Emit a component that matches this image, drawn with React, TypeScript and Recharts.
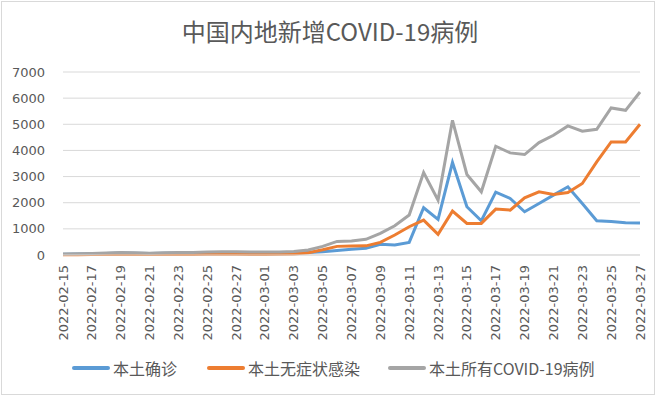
import React from "react";
import { LineChart, Line, XAxis, YAxis, CartesianGrid, Legend } from "recharts";

const dates = [
    "2022-02-15", "2022-02-16", "2022-02-17", "2022-02-18", "2022-02-19", "2022-02-20", "2022-02-21",
    "2022-02-22", "2022-02-23", "2022-02-24", "2022-02-25", "2022-02-26", "2022-02-27", "2022-02-28",
    "2022-03-01", "2022-03-02", "2022-03-03", "2022-03-04", "2022-03-05", "2022-03-06", "2022-03-07",
    "2022-03-08", "2022-03-09", "2022-03-10", "2022-03-11", "2022-03-12", "2022-03-13", "2022-03-14",
    "2022-03-15", "2022-03-16", "2022-03-17", "2022-03-18", "2022-03-19", "2022-03-20", "2022-03-21",
    "2022-03-22", "2022-03-23", "2022-03-24", "2022-03-25", "2022-03-26", "2022-03-27",
];

// 本土确诊
const confirmed = [
    30, 35, 45, 60, 75, 70, 55, 70, 75, 80, 85, 95, 100, 95, 90, 85, 90, 100, 120, 175,
    216, 254, 407, 382, 483, 1807, 1361, 3538, 1845, 1310, 2404, 2163, 1654, 1972, 2290, 2608,
    1972, 1310, 1285, 1234, 1221,
];

// 本土无症状感染
const asymptomatic = [
    10, 12, 15, 20, 20, 20, 15, 20, 20, 20, 25, 25, 25, 20, 20, 25, 40, 90, 200, 330,
    344, 350, 483, 763, 1081, 1336, 789, 1679, 1209, 1209, 1756, 1718, 2188, 2417, 2315, 2392,
    2735, 3562, 4326, 4326, 5000,
];

// 本土所有COVID-19病例
const total = [
    40, 50, 60, 80, 95, 90, 70, 90, 95, 100, 110, 120, 125, 115, 110, 110, 130, 190, 330, 520,
    540, 600, 827, 1120, 1527, 3155, 2099, 5153, 3079, 2417, 4160, 3906, 3842, 4300, 4580, 4936,
    4733, 4809, 5623, 5534, 6234,
];

const yTicks = [0, 1000, 2000, 3000, 4000, 5000, 6000, 7000];

const SERIES = [
    { key: "confirmed", name: "本土确诊", color: "#5B9BD5" },
    { key: "asymptomatic", name: "本土无症状感染", color: "#ED7D31" },
    { key: "total", name: "本土所有COVID-19病例", color: "#A5A5A5" },
];

const data = dates.map((d, i) => ({
    date: d,
    confirmed: confirmed[i],
    asymptomatic: asymptomatic[i],
    total: total[i],
}));

const FONT = '"Noto Sans CJK SC", "Noto Sans", sans-serif';
const NUM_FONT = '"DejaVu Sans", sans-serif';
const TEXT = "#595959";

const DateTick = ({ x, y, payload }: any) => (
    <text
        x={x}
        y={y}
        transform={`rotate(-90, ${x}, ${y})`}
        textAnchor="end"
        dominantBaseline="central"
        fill={TEXT}
        fontSize={13}
        fontFamily={NUM_FONT}
    >
        {payload.value}
    </text>
);

const legendLeft = [72, 207, 388];

const LegendBox = () => (
    <div style={{ position: "relative", width: 660, height: 30, fontFamily: FONT }}>
        {SERIES.map((s, i) => (
            <div
                key={s.key}
                style={{ position: "absolute", left: legendLeft[i], top: 0, height: 30, display: "flex", alignItems: "center" }}
            >
                <span style={{ display: "inline-block", width: 38, height: 4, background: s.color, borderRadius: 2 }} />
                <span style={{ marginLeft: 3, fontSize: 16, color: TEXT, whiteSpace: "nowrap" }}>{s.name}</span>
            </div>
        ))}
    </div>
);

export default function App() {
    return (
        <div style={{ position: "relative", width: 660, height: 397, background: "#fff" }}>
            <style>{`body{margin:0}`}</style>
            <div
                style={{
                    position: "absolute", left: 1, top: 1, width: 652, height: 392,
                    border: "1px solid #d9d9d9", pointerEvents: "none",
                }}
            />
            <div
                style={{
                    position: "absolute", left: 0, top: 13, width: 660, textAlign: "center",
                    fontFamily: FONT, fontSize: 24, color: TEXT, lineHeight: "36px",
                }}
            >
                中国内地新增COVID-19病例
            </div>
            <LineChart width={660} height={397} data={data} margin={{ top: 72, right: 20, left: 0, bottom: 14 }}>
                <CartesianGrid vertical={false} stroke="#d9d9d9" />
                <XAxis
                    dataKey="date"
                    interval={1}
                    height={98}
                    tick={<DateTick />}
                    tickSize={0}
                    tickMargin={10}
                    axisLine={{ stroke: "#d9d9d9" }}
                />
                <YAxis
                    width={63}
                    domain={[0, 7000]}
                    ticks={yTicks}
                    tickSize={0}
                    tickMargin={18}
                    axisLine={false}
                    tick={{ fill: TEXT, fontSize: 13, fontFamily: NUM_FONT }}
                />
                {SERIES.map((s) => (
                    <Line
                        key={s.key}
                        type="linear"
                        dataKey={s.key}
                        name={s.name}
                        stroke={s.color}
                        strokeWidth={3}
                        dot={false}
                        isAnimationActive={false}
                    />
                ))}
                <Legend verticalAlign="bottom" height={30} content={<LegendBox />} />
            </LineChart>
        </div>
    );
}
